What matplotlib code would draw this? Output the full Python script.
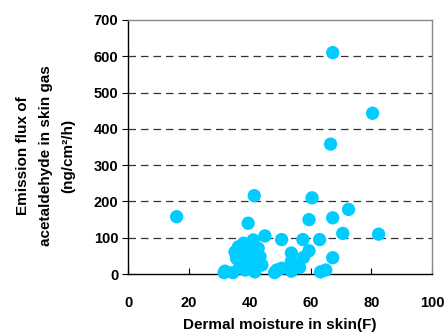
import matplotlib.pyplot as plt

plt.rcParams['font.family'] = ['Liberation Sans', 'DejaVu Sans']
plt.rcParams['font.weight'] = 'bold'

# dermal moisture (F) vs acetaldehyde emission flux (ng/cm2/h)
moisture = [16, 67.3, 80.4, 66.6, 41.5, 60.5, 39.5, 59.5, 45, 50.5, 57.5, 63,
            72.5, 67.3, 70.6, 82.4, 53.7, 59.5, 57.7, 67.3, 53.7, 50.5, 48.2,
            53.7, 56.4, 31.6, 34.5, 63.3, 65, 41.2, 36.3, 35.2, 42.8, 43.4,
            35.7, 36.8, 44, 31.9, 41.7, 38.5, 48.9, 39.5, 38, 41.2, 37, 40,
            42, 39]
flux = [158, 610, 443, 358, 216, 210, 140, 150, 105, 95, 95, 95,
        178, 155, 112, 110, 58, 64, 46, 45, 34, 16, 4,
        8, 18, 4, 4, 6, 11, 94, 75, 61, 71, 48,
        43, 25, 25, 8, 6, 11, 11, 57, 85, 34, 65, 80,
        20, 40]

xticks = [0, 20, 40, 60, 80, 100]
yticks = [0, 100, 200, 300, 400, 500, 600, 700]

fig = plt.figure(figsize=(4.46, 3.33), dpi=100)
ax = fig.add_axes([0.287, 0.177, 0.682, 0.763])

for y in yticks[1:-1]:
    ax.axhline(y, color='#333333', lw=0.9, ls=(0, (6, 4)), zorder=1)

ax.scatter(moisture, flux, s=92, color='#00CCFF', edgecolors='none', zorder=3, clip_on=False)

ax.set_xlim(0, 100)
ax.set_ylim(0, 700)
ax.set_xticks(xticks)
ax.set_yticks(yticks)
ax.tick_params(axis='x', direction='in', length=4, pad=15.5, labelsize=10.5)
ax.tick_params(axis='y', direction='out', length=4, pad=3, labelsize=10.5)
for lab in ax.get_xticklabels() + ax.get_yticklabels():
    lab.set_fontweight('bold')

for side in ['left', 'bottom']:
    ax.spines[side].set_color('black')
    ax.spines[side].set_linewidth(1.0)
for side in ['top', 'right']:
    ax.spines[side].set_color('#888888')
    ax.spines[side].set_linewidth(1.0)

ax.set_xlabel('Dermal moisture in skin(F)', fontsize=11, fontweight='bold', labelpad=6)
ax.set_ylabel('Emission flux of\nacetaldehyde in skin gas\n(ng/cm²/h)', fontsize=11,
              fontweight='bold', linespacing=1.75)
ax.yaxis.set_label_coords(-0.175, 0.465)

fig.savefig('out.png', dpi=100)
